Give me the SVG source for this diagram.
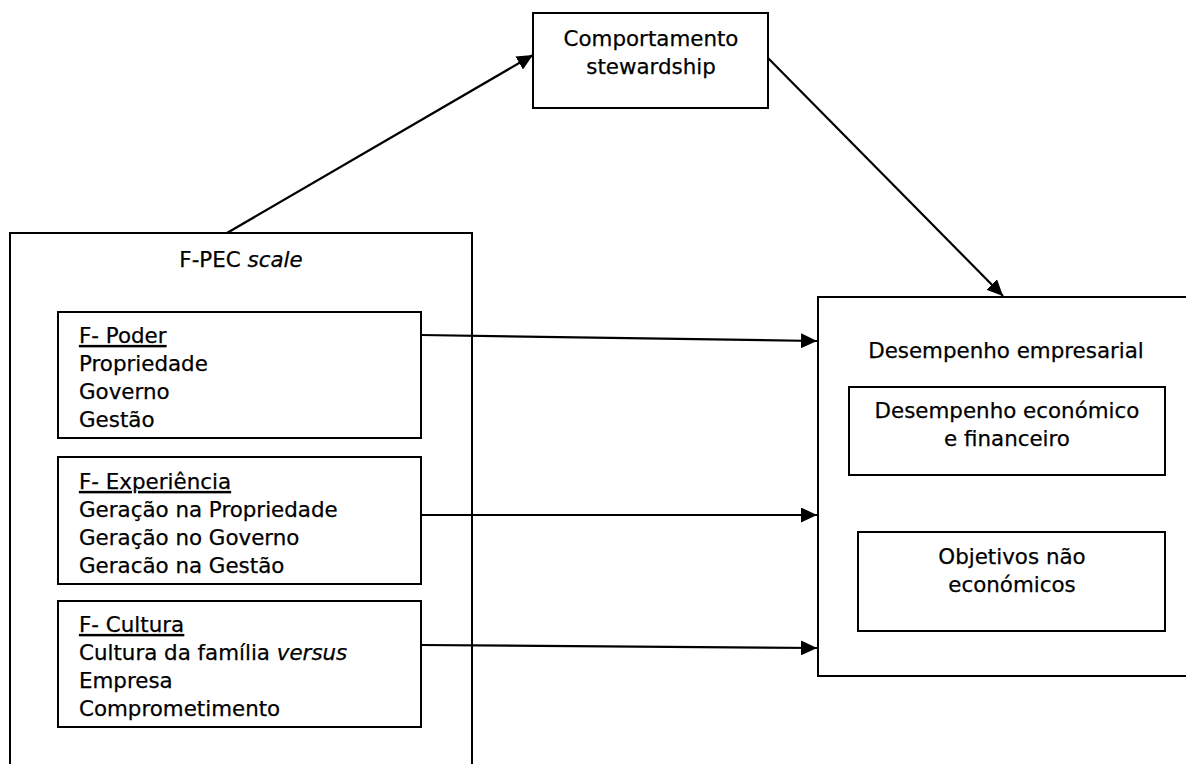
<svg xmlns="http://www.w3.org/2000/svg" width="1186" height="764" viewBox="0 0 1186 764">
  <style>
    .box { fill: #ffffff; stroke: #000000; stroke-width: 2; }
    .t { font-family: "DejaVu Sans", "Verdana", sans-serif; font-size: 21.4px; fill: #000000; stroke: #000000; stroke-width: 0.25; }
    .c { text-anchor: middle; }
    .u { text-decoration: underline; }
    .conn { fill: none; stroke: #000000; stroke-width: 2.2; }
  </style>
  <defs>
    <marker id="arrow" markerUnits="userSpaceOnUse" markerWidth="17" markerHeight="15" refX="16" refY="7.5" orient="auto">
      <path d="M0,0 L16,7.5 L0,15 Z" fill="#000000"/>
    </marker>
  </defs>
  <rect width="1186" height="764" fill="#ffffff"/>

  <!-- top node -->
  <g id="comportamento">
    <rect class="box" x="533" y="13" width="235" height="95"/>
    <text class="t c" x="651" y="46">Comportamento</text>
    <text class="t c" x="651" y="74">stewardship</text>
  </g>

  <!-- left container: F-PEC scale -->
  <g id="fpec">
    <rect class="box" x="10" y="233" width="462" height="560"/>
    <text class="t c" x="241" y="267">F-PEC <tspan font-style="italic">scale</tspan></text>
  </g>

  <g id="f-poder">
    <rect class="box" x="58" y="312" width="363" height="126"/>
    <text class="t u" x="79" y="343">F- Poder</text>
    <text class="t" x="79" y="371">Propriedade</text>
    <text class="t" x="79" y="399">Governo</text>
    <text class="t" x="79" y="427">Gestão</text>
  </g>

  <g id="f-experiencia">
    <rect class="box" x="58" y="457" width="363" height="127"/>
    <text class="t u" x="79" y="489">F- Experiência</text>
    <text class="t" x="79" y="517">Geração na Propriedade</text>
    <text class="t" x="79" y="545">Geração no Governo</text>
    <text class="t" x="79" y="573">Geracão na Gestão</text>
  </g>

  <g id="f-cultura">
    <rect class="box" x="58" y="601" width="363" height="126"/>
    <text class="t u" x="79" y="632">F- Cultura</text>
    <text class="t" x="79" y="660">Cultura da família <tspan font-style="italic">versus</tspan></text>
    <text class="t" x="79" y="688">Empresa</text>
    <text class="t" x="79" y="716">Comprometimento</text>
  </g>

  <!-- right container: business performance -->
  <g id="desempenho">
    <rect class="box" x="818" y="297" width="400" height="379"/>
    <text class="t c" x="1006" y="358">Desempenho empresarial</text>
  </g>

  <g id="economico">
    <rect class="box" x="849" y="387" width="316" height="88"/>
    <text class="t c" x="1007" y="418">Desempenho económico</text>
    <text class="t c" x="1007" y="446">e financeiro</text>
  </g>

  <g id="nao-economicos">
    <rect class="box" x="858" y="532" width="307" height="99"/>
    <text class="t c" x="1012" y="564">Objetivos não</text>
    <text class="t c" x="1012" y="592">económicos</text>
  </g>

  <!-- connectors -->
  <g id="connectors">
    <line class="conn" x1="227" y1="233" x2="533" y2="55" marker-end="url(#arrow)"/>
    <line class="conn" x1="768" y1="58" x2="1003" y2="296" marker-end="url(#arrow)"/>
    <line class="conn" x1="421" y1="335" x2="817" y2="341" marker-end="url(#arrow)"/>
    <line class="conn" x1="421" y1="515" x2="817" y2="515" marker-end="url(#arrow)"/>
    <line class="conn" x1="421" y1="645" x2="817" y2="648" marker-end="url(#arrow)"/>
  </g>
</svg>
